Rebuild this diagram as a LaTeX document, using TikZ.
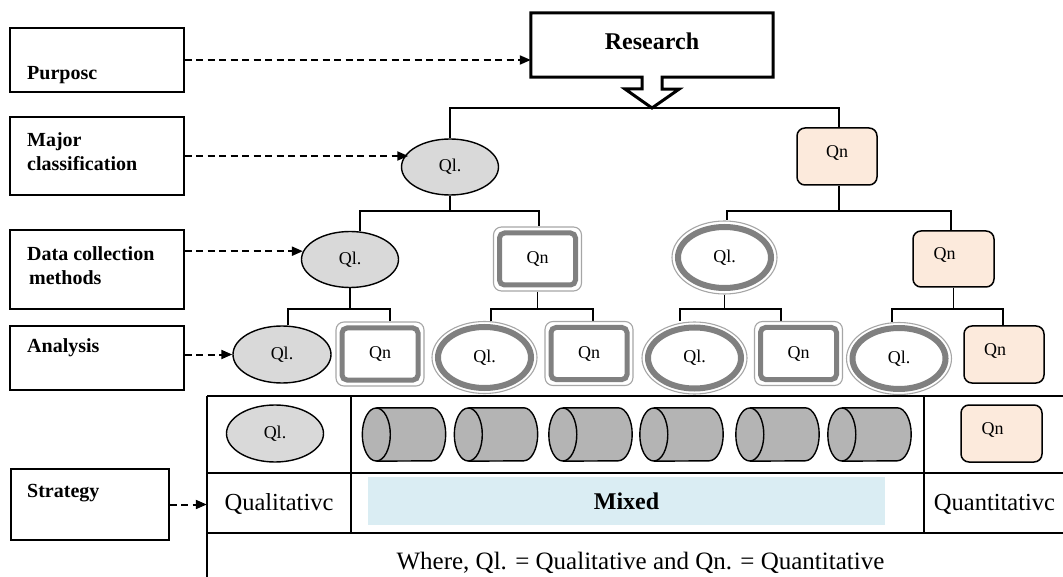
\documentclass[tikz,border=0pt]{standalone}
\usepackage{fontspec}
\setmainfont{Liberation Serif}
\usetikzlibrary{shapes.geometric, arrows.meta, backgrounds}
\definecolor{peach}{RGB}{252,234,220}
\definecolor{mixblue}{RGB}{218,237,243}
\definecolor{qlfill}{RGB}{217,217,217}
\definecolor{cylfill}{RGB}{180,180,180}
\newcommand\nodefont{\fontsize{18}{21}\selectfont}
% "Qn" label set a little above and left of the box centre
\newcommand\qn[1]{\raisebox{-1pt}[0pt][0pt]{\makebox[0pt]{\hspace{#1}Qn}}}
% horizontal cylinder drawn inside the frame of a named node (cap on the left)
\newcommand\drawcyl[1]{%
  \fill[cylfill] ([xshift=14pt]#1.north west) -- ([xshift=-14pt]#1.north east)
    arc[start angle=90, end angle=-90, x radius=14pt, y radius=26.5pt]
    -- ([xshift=14pt]#1.south west)
    arc[start angle=270, end angle=90, x radius=14pt, y radius=26.5pt] -- cycle;
  \draw[cylline] ([xshift=14pt]#1.north west) -- ([xshift=-14pt]#1.north east)
    arc[start angle=90, end angle=-90, x radius=14pt, y radius=26.5pt]
    -- ([xshift=14pt]#1.south west);
  \draw[cylline] ([xshift=14pt]#1.west) ellipse [x radius=14pt, y radius=26.5pt];
}

\begin{document}
\begin{tikzpicture}[x=1pt, y=-1pt,
  labelbox/.style={draw, line width=1.4pt, inner sep=0pt, minimum width=174pt},
  labeltext/.style={font=\bfseries\fontsize{20}{24}\selectfont, align=left, anchor=west, inner sep=0pt},
  qlg/.style={ellipse, draw, line width=1.4pt, fill=qlfill, minimum width=97pt, minimum height=56pt, inner sep=0pt, font=\nodefont},
  qnp/.style={rectangle, rounded corners=8pt, draw, line width=1.5pt, fill=peach, minimum width=80pt, minimum height=57pt, inner sep=0pt, font=\nodefont},
  qld/.style={ellipse, draw=gray!70, line width=1.1pt, fill=white, minimum width=105pt, minimum height=72pt, inner sep=0pt, font=\nodefont,
    path picture={\draw[gray, line width=6pt] (path picture bounding box.center) ellipse [x radius=46.5pt, y radius=30.5pt];}},
  qnd/.style={rectangle, rounded corners=8pt, draw=gray!70, line width=1.1pt, fill=white, minimum width=88pt, minimum height=64pt, inner sep=0pt, font=\nodefont,
    path picture={\draw[gray, line width=5pt, rounded corners=5pt] ([shift={(6pt,-6pt)}]path picture bounding box.north west) rectangle ([shift={(-6pt,6pt)}]path picture bounding box.south east);}},
  cylframe/.style={rectangle, minimum width=83pt, minimum height=53pt, inner sep=0pt},
  cylline/.style={line width=1.4pt},
  tree/.style={line width=1.4pt},
  dasharrow/.style={line width=2pt, dash pattern=on 7pt off 4.5pt, -{Triangle[length=11pt,width=9pt]}},
  callout/.style={line width=3pt, line join=miter, fill=white},
  grid/.style={line width=1.5pt}
]
\useasboundingbox (0,0) rectangle (1063,577);

% ---- left-hand level labels ----
\node[labelbox, minimum height=64pt] (bPurpose) at (97,60) {};
\node[labelbox, minimum height=78pt] (bMajor) at (97,156) {};
\node[labelbox, minimum height=79pt] (bData) at (97,269.5) {};
\node[labelbox, minimum height=64pt] (bAnalysis) at (97,358) {};
\node[labelbox, minimum height=71pt, minimum width=158pt] (bStrategy) at (90,504.5) {};
\node[labeltext] (tPurpose) at (27,75) {Purposc};
\node[labeltext] (tMajor) at (27,152) {Major\\classification};
\node[labeltext] (tData) at (27,265.5) {Data collection\\\hspace*{2pt}methods};
\node[labeltext] (tAnalysis) at (27,348) {Analysis};
\node[labeltext] (tStrategy) at (27,493) {Strategy};

% ---- root ----
\node[minimum width=242pt, minimum height=64pt, inner sep=0pt] (res) at (652,45) {};
\coordinate (rtip) at (652,108);
\draw[callout] (res.south west) -- (res.north west) -- (res.north east) -- (res.south east)
  -- ([xshift=10pt]res.south) -- ++(0,12) -- ++(17,0) -- (rtip) -- ++(-27,-19) -- ++(17,0)
  -- ([xshift=-10pt]res.south) -- cycle;
\node[font=\bfseries\fontsize{24}{28}\selectfont] (tRes) at ([yshift=4pt]res.center) {Research};

% ---- tree nodes ----
\node[qlg] (qlA) at (450,167) {Ql.};
\node[qnp] (qnA) at (837,156.5) {\qn{0pt}};

\node[qlg] (qlB) at (350,259.5) {Ql.};
\node[qnd] (qnB) at (537.5,259) {Qn};
\node[qld, minimum height=73pt] (qlE) at (724.5,257.5) {Ql.};
\node[qnp, minimum width=81pt, minimum height=56pt] (qnE) at (953.5,259) {\qn{-18pt}};

\node[qlg, minimum width=98pt, minimum height=57pt] (qlC) at (282,354.5) {Ql.};
\node[qnd] (qnC) at (380,354) {Qn};
\node[qld] (qlD) at (484.5,357.5) {Ql.};
\node[qnd] (qnD) at (589,353.5) {Qn};
\node[qld] (qlF) at (694.5,358) {Ql.};
\node[qnd] (qnF) at (798.5,353.5) {Qn};
\node[qld] (qlG) at (899,358.5) {Ql.};
\node[qnp] (qnG) at (1004,354.5) {\qn{-18pt}};

% branch points of the tree
\coordinate (b1) at (qlA.south |- 0,211);
\coordinate (b2) at (839,211);
\coordinate (b3) at (qlB.south |- 0,309);
\coordinate (b4) at (qnB.south |- 0,309);
\coordinate (b5) at (qlE.south |- 0,309);
\coordinate (b6) at (qnE.south |- 0,309);

\begin{scope}[on background layer]
  \draw[tree] (qlA.north) |- (rtip) -| ([xshift=2pt]qnA.north);
  \draw[tree] (qlA.south) -- (b1);
  \draw[tree] ([xshift=2pt]qnA.south) -- (b2);
  \draw[tree] (b1) -| ([xshift=10pt]qlB.north);
  \draw[tree] (b1) -| ([xshift=1.5pt]qnB.north);
  \draw[tree] (b2) -| ([xshift=2.5pt]qlE.north);
  \draw[tree] (b2) -| ([xshift=-2.5pt]qnE.north);
  \draw[tree] (qlB.south) -- (b3);
  \draw[tree] (qnB.south) -- (b4);
  \draw[tree] (qlE.south) -- (b5);
  \draw[tree] (qnE.south) -- (b6);
  \draw[tree] (b3) -| ([xshift=6pt]qlC.north);
  \draw[tree] (b3) -| ([xshift=10pt]qnC.north);
  \draw[tree] (b4) -| ([xshift=6.5pt]qlD.north);
  \draw[tree] (b4) -| ([xshift=4pt]qnD.north);
  \draw[tree] (b5) -| ([xshift=-14.5pt]qlF.north);
  \draw[tree] (b5) -| ([xshift=-17.5pt]qnF.north);
  \draw[tree] (b6) -| ([xshift=-7pt]qlG.north);
  \draw[tree] (b6) -| ([xshift=-1pt]qnG.north);
\end{scope}

% ---- strategy table ----
\draw[grid] (207,396) -- (1063,396);
\draw[grid] (207,473) -- (1063,473);
\draw[grid] (207,533) -- (1063,533);
\draw[grid] (207,396) -- (207,577);
\draw[grid] (351,396) -- (351,533);
\draw[grid] (924,396) -- (924,533);

\node[qlg, minimum height=57pt] (qlT) at (275,433.5) {Ql.};
\node[cylframe] (cy1) at (404,434.5) {};
\node[cylframe] (cy2) at (496,434.5) {};
\node[cylframe] (cy3) at (590.5,434.5) {};
\node[cylframe] (cy4) at (681.5,434.5) {};
\node[cylframe] (cy5) at (777.5,434.5) {};
\node[cylframe] (cy6) at (869.5,434.5) {};
\drawcyl{cy1}\drawcyl{cy2}\drawcyl{cy3}\drawcyl{cy4}\drawcyl{cy5}\drawcyl{cy6}
\node[qnp, minimum width=81pt] (qnT) at (1001.5,433.5) {\qn{-18pt}};

\node[minimum width=144pt, minimum height=60pt, inner sep=0pt, font=\fontsize{24.5}{28}\selectfont] (cQual) at (279,504) {Qualitativc};
\node[fill=mixblue, minimum width=517pt, minimum height=48pt, inner sep=0pt, font=\bfseries\fontsize{24}{28}\selectfont] (mixed) at (626.5,501) {Mixed};
\node[inner sep=0pt, font=\fontsize{24.5}{28}\selectfont] (cQuan) at (994.5,504) {Quantitativc};
\node[inner sep=0pt, font=\fontsize{25}{30}\selectfont] (where) at (640.5,563) {Where, Ql. = Qualitative and Qn. = Quantitative};

% ---- dashed pointers from the labels ----
\draw[dasharrow] (bPurpose.east) -- (bPurpose.east -| res.west);
\draw[dasharrow] (bMajor.east) -- (bMajor.east -| qlA.160);
\draw[dasharrow] (bData.east |- qlB.170) -- (qlB.170);
\draw[dasharrow] (bAnalysis.east |- qlC.west) -- (qlC.west);
\draw[dasharrow] (bStrategy.east) -- (bStrategy.east -| cQual.west);
\end{tikzpicture}
\end{document}
